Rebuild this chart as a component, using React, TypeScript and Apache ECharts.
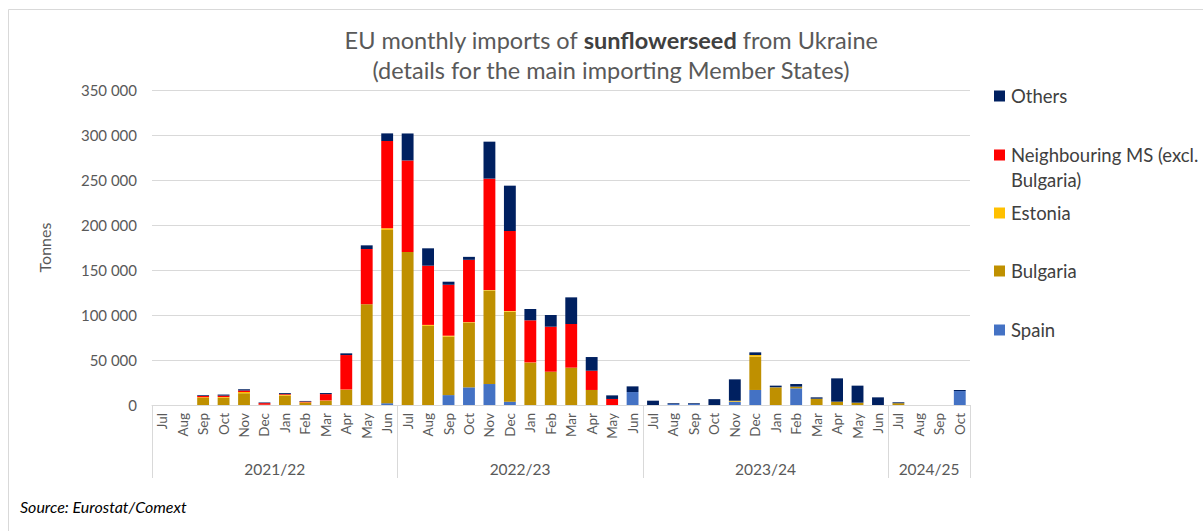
import React, { useEffect, useRef } from "react";
import * as echarts from "echarts";

const months = [
  "Jul", "Aug", "Sep", "Oct", "Nov", "Dec", "Jan", "Feb", "Mar", "Apr", "May", "Jun",
  "Jul", "Aug", "Sep", "Oct", "Nov", "Dec", "Jan", "Feb", "Mar", "Apr", "May", "Jun",
  "Jul", "Aug", "Sep", "Oct", "Nov", "Dec", "Jan", "Feb", "Mar", "Apr", "May", "Jun",
  "Jul", "Aug", "Sep", "Oct",
];

const yearLabels = ["2021/22", "2022/23", "2023/24", "2024/25"];
const yearBoundaries = [0, 12, 24, 36, 40];
const yearCenters = [6, 18, 30, 38];

const spain = [
  0, 0, 0, 0, 0, 0, 0, 0, 0, 0, 0, 2000,
  0, 0, 11000, 19600, 23300, 3700, 0, 0, 0, 0, 0, 14400,
  0, 1200, 1200, 0, 3700, 16700, 0, 18500, 0, 0, 0, 0,
  0, 0, 0, 15500,
];
const bulgaria = [
  0, 0, 7800, 8000, 13000, 300, 10300, 2200, 4800, 16700, 112000, 192500,
  170000, 88000, 65000, 72000, 104000, 100000, 47000, 37000, 41500, 16700, 0, 0,
  0, 0, 0, 0, 0, 37000, 19000, 1900, 7000, 3700, 2600, 0,
  2000, 0, 0, 0,
];
const estonia = [
  0, 0, 900, 800, 1500, 0, 1000, 700, 300, 500, 0, 1800,
  0, 1000, 1000, 500, 500, 700, 300, 0, 0, 0, 0, 0,
  0, 0, 0, 0, 1000, 1800, 600, 0, 0, 0, 0, 0,
  0, 0, 0, 0,
];
const neighbouring = [
  0, 0, 1200, 1600, 1600, 1800, 800, 900, 7000, 38300, 61300, 97000,
  101700, 65800, 56600, 69200, 123700, 88900, 46800, 50000, 48500, 21400, 6700, 0,
  0, 0, 0, 0, 0, 0, 0, 0, 0, 0, 0, 0,
  0, 0, 0, 0,
];
const others = [
  0, 0, 800, 1200, 1500, 700, 1100, 700, 1200, 1900, 4100, 8500,
  30000, 19300, 3400, 3300, 41100, 50400, 12600, 13000, 29600, 15200, 4000, 6300,
  4800, 800, 800, 6500, 23800, 3000, 1900, 2900, 1500, 25900, 18900, 8500,
  1000, 0, 0, 1200,
];

const seriesDefs = [
  { name: "Spain", data: spain, color: "#4472C4" },
  { name: "Bulgaria", data: bulgaria, color: "#BF9000" },
  { name: "Estonia", data: estonia, color: "#FFC000" },
  { name: "Neighbouring MS (excl.\nBulgaria)", data: neighbouring, color: "#FF0000" },
  { name: "Others", data: others, color: "#002060" },
];

const legendOrder = [
  { label: "Others", color: "#002060", y: 96 },
  { label: "Neighbouring MS (excl.\nBulgaria)", color: "#FF0000", y: 155 },
  { label: "Estonia", color: "#FFC000", y: 213 },
  { label: "Bulgaria", color: "#BF9000", y: 271 },
  { label: "Spain", color: "#4472C4", y: 330 },
];

const FONT = "Lato, 'Open Sans', sans-serif";
const GREY = "#595959";

export default function App() {
  const ref = useRef<HTMLDivElement>(null);

  useEffect(() => {
    if (!ref.current) return;
    const chart = echarts.init(ref.current, null, { renderer: "svg" });

    const legendGraphics: any[] = [];
    legendOrder.forEach((it) => {
      legendGraphics.push({
        type: "rect",
        left: 994,
        top: it.y - 5.5,
        shape: { width: 11, height: 11 },
        style: { fill: it.color },
      });
      legendGraphics.push({
        type: "text",
        left: 1011,
        top: it.y - 12.5,
        style: {
          text: it.label,
          fontFamily: FONT,
          fontSize: 18.5,
          lineHeight: 25,
          fill: "#404040",
        },
      });
    });

    chart.setOption({
      animation: false,
      backgroundColor: "#ffffff",
      title: {
        left: 606,
        top: 20,
        textAlign: "center",
        text:
          "{a|EU monthly imports of }{b|sunflowerseed}{a| from Ukraine}\n{a|(details for the main importing Member States)}",
        textStyle: {
          fontWeight: "normal",
          rich: {
            a: { fontFamily: FONT, fontSize: 23.5, color: GREY, fontWeight: "normal", lineHeight: 30 },
            b: { fontFamily: FONT, fontSize: 23.5, color: "#404040", fontWeight: "bold", lineHeight: 30 },
          },
        },
      },
      grid: { left: 152, right: 233, top: 90, bottom: 126 },
      xAxis: [
        {
          type: "category",
          data: months,
          axisLine: { show: true, lineStyle: { color: "#d9d9d9", width: 1 } },
          axisTick: { show: false },
          axisLabel: {
            rotate: 90,
            interval: 0,
            margin: 8,
            fontFamily: FONT,
            fontSize: 13.5,
            color: GREY,
          },
        },
        {
          type: "value",
          min: 0,
          max: 40,
          position: "bottom",
          axisLine: { show: false },
          splitLine: { show: false },
          axisTick: {
            show: true,
            customValues: yearBoundaries,
            length: 73,
            lineStyle: { color: "#d9d9d9", width: 1 },
          },
          axisLabel: {
            customValues: yearCenters,
            margin: 56,
            fontFamily: FONT,
            fontSize: 15.5,
            color: GREY,
            formatter: (v: number) => {
              const i = yearCenters.indexOf(v);
              return i >= 0 ? yearLabels[i] : "";
            },
          },
        },
      ],
      yAxis: {
        type: "value",
        min: 0,
        max: 350000,
        interval: 50000,
        name: "Tonnes",
        nameLocation: "middle",
        nameGap: 100,
        nameTextStyle: { fontFamily: FONT, fontSize: 16, color: GREY },
        axisLine: { show: false },
        axisTick: { show: false },
        splitLine: { lineStyle: { color: "#d9d9d9", width: 1 } },
        axisLabel: {
          margin: 15,
          fontFamily: FONT,
          fontSize: 15,
          color: GREY,
          formatter: (v: number) => String(v).replace(/\B(?=(\d{3})+(?!\d))/g, " "),
        },
      },
      series: seriesDefs.map((s) => ({
        name: s.name,
        type: "bar",
        stack: "total",
        xAxisIndex: 0,
        barWidth: "58%",
        data: s.data,
        itemStyle: { color: s.color },
      })),
      graphic: [
        {
          type: "rect",
          left: 6,
          top: 7,
          shape: { width: 1250, height: 600 },
          style: { fill: "none", stroke: "#d9d9d9", lineWidth: 1 },
          silent: true,
        },
        {
          type: "text",
          left: 20,
          top: 498,
          style: {
            text: "Source: Eurostat/Comext",
            fontFamily: FONT,
            fontStyle: "italic",
            fontSize: 16,
            fill: "#000000",
          },
        },
        ...legendGraphics,
      ],
    });

    return () => chart.dispose();
  }, []);

  return (
    <div
      ref={ref}
      style={{ position: "absolute", left: 0, top: 0, width: 1203, height: 531, background: "#fff" }}
    />
  );
}
